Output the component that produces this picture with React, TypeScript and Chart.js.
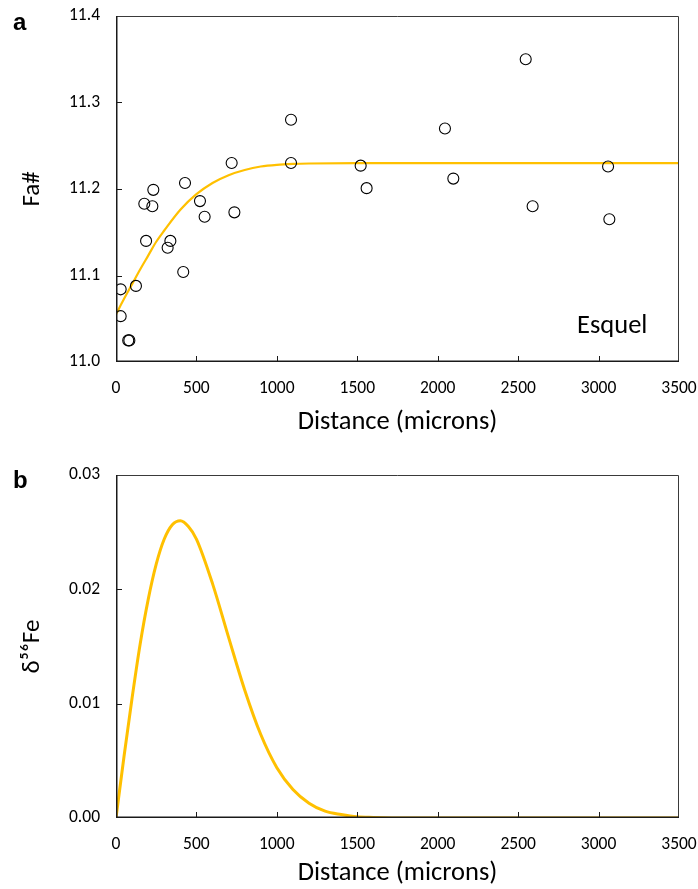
import React, { useEffect, useRef } from "react";
import { Chart, registerables } from "chart.js";

Chart.register(...registerables);

// ---- Panel a: Fa# data points (distance in microns, Fa#) ----
const pointsX = [29, 29, 76, 83, 124, 187, 176, 226, 232, 321, 338, 418, 429, 522, 551, 719, 736, 1088, 1088, 1521, 1558, 2045, 2097, 2547, 2590, 3059, 3067];
const pointsY = [11.084, 11.053, 11.025, 11.025, 11.088, 11.14, 11.183, 11.18, 11.199, 11.132, 11.14, 11.104, 11.207, 11.186, 11.168, 11.23, 11.173, 11.28, 11.23, 11.227, 11.201, 11.27, 11.212, 11.35, 11.18, 11.226, 11.165];

// ---- Panel a: model curve ----
const curveAX = [0, 50, 100, 150, 200, 250, 300, 400, 500, 600, 700, 800, 900, 1000, 1100, 1200, 1500, 2000, 2500, 3000, 3500];
const curveAY = [11.055, 11.073, 11.09, 11.107, 11.123, 11.139, 11.152, 11.176, 11.194, 11.207, 11.216, 11.222, 11.226, 11.228, 11.229, 11.2295, 11.23, 11.23, 11.23, 11.23, 11.23];

// ---- Panel b: δ56Fe model curve ----
const curveBX = [0, 50, 100, 150, 200, 250, 300, 350, 400, 450, 500, 600, 700, 800, 900, 1000, 1100, 1200, 1300, 1400, 1500, 1600, 1800, 2000, 2500, 3000, 3500];
const curveBY = [0, 0.0054, 0.0105, 0.0152, 0.0191, 0.0222, 0.0244, 0.02565, 0.026, 0.0255, 0.0244, 0.0205, 0.0158, 0.0112, 0.0073, 0.0044, 0.0025, 0.0013, 0.0006, 0.0003, 0.0001, 0.00005, 0, 0, 0, 0, 0];

// ---- Axis tick settings ----
const xTicks = { min: 0, max: 3500, step: 500 };
const yTicksA = { min: 11.0, max: 11.4, step: 0.1 };
const yTicksB = { min: 0, max: 0.03, step: 0.01 };

const FONT = "Carlito, 'Open Sans', sans-serif";
const GOLD = "#FFC000";

const framePlugin = {
  id: "frameTicks",
  afterDatasetsDraw(chart: any) {
    const { ctx, chartArea } = chart;
    const { left, right, top, bottom } = chartArea;
    ctx.save();
    ctx.strokeStyle = "#3a3a3a";
    ctx.lineWidth = 1;
    ctx.beginPath();
    ctx.moveTo(left, top + 0.5);
    ctx.lineTo(right - 0.5, top + 0.5);
    ctx.lineTo(right - 0.5, bottom);
    ctx.stroke();
    ctx.strokeStyle = "#1a1a1a";
    ctx.lineWidth = 1.5;
    ctx.beginPath();
    ctx.moveTo(left + 0.75, top);
    ctx.lineTo(left + 0.75, bottom - 0.75);
    ctx.lineTo(right, bottom - 0.75);
    ctx.stroke();
    ctx.lineWidth = 1;
    ctx.strokeStyle = "#1a1a1a";
    const xs = chart.scales.x;
    const ys = chart.scales.y;
    ctx.beginPath();
    xs.ticks.forEach((t: any) => {
      const px = Math.round(xs.getPixelForValue(t.value)) + 0.5;
      if (px <= left + 1 || px >= right - 1) return;
      ctx.moveTo(px, bottom);
      ctx.lineTo(px, bottom - 6);
    });
    ys.ticks.forEach((t: any) => {
      const py = Math.round(ys.getPixelForValue(t.value)) + 0.5;
      if (py <= top + 1 || py >= bottom - 1) return;
      ctx.moveTo(left, py);
      ctx.lineTo(left + 6, py);
    });
    ctx.stroke();
    ctx.restore();
  },
};

function makeOptions(yT: any, decimals: number, yTitle: string, padTop: number, xHeight: number, xTitlePadBottom: number) {
  return {
    responsive: false,
    animation: false,
    maintainAspectRatio: false,
    layout: { padding: { left: 0, right: 19, top: padTop, bottom: 0 } },
    plugins: { legend: { display: false }, tooltip: { enabled: false } },
    scales: {
      x: {
        type: "linear",
        min: xTicks.min,
        max: xTicks.max,
        grid: { display: false, drawTicks: false, tickLength: 0 },
        border: { display: false },
        ticks: {
          stepSize: xTicks.step,
          color: "#000",
          padding: 16,
          maxRotation: 0,
          font: { family: FONT, size: 17.5 },
          callback: (v: any) => String(v),
        },
        title: {
          display: true,
          text: "Distance (microns)",
          color: "#000",
          font: { family: FONT, size: 26.5 },
          padding: { top: 0, bottom: xTitlePadBottom },
        },
        afterFit: (s: any) => {
          s.height = xHeight;
          s.paddingLeft = 0;
          s.paddingRight = 0;
        },
      },
      y: {
        type: "linear",
        min: yT.min,
        max: yT.max,
        grid: { display: false, drawTicks: false, tickLength: 0 },
        border: { display: false },
        ticks: {
          stepSize: yT.step,
          color: "#000",
          padding: 16,
          font: { family: FONT, size: 17.5 },
          callback: (v: any) => Number(v).toFixed(decimals),
        },
        title: {
          display: true,
          text: yTitle,
          color: "#000",
          font: { family: FONT, size: 25 },
          padding: { top: 18, bottom: 0 },
        },
        afterFit: (s: any) => {
          s.width = 116;
          s.paddingTop = 0;
          s.paddingBottom = 0;
        },
      },
    },
  };
}

function App() {
  const refA = useRef<HTMLCanvasElement>(null);
  const refB = useRef<HTMLCanvasElement>(null);

  useEffect(() => {
    document.body.style.margin = "0";
    const chartA = new Chart(refA.current as HTMLCanvasElement, {
      type: "scatter",
      data: {
        datasets: [
          {
            type: "line",
            data: curveAX.map((x, i) => ({ x, y: curveAY[i] })),
            borderColor: GOLD,
            borderWidth: 2.2,
            pointRadius: 0,
            cubicInterpolationMode: "monotone",
            fill: false,
            order: 2,
          } as any,
          {
            type: "scatter",
            data: pointsX.map((x, i) => ({ x, y: pointsY[i] })),
            pointStyle: "circle",
            pointRadius: 5.5,
            borderColor: "#000",
            borderWidth: 1.1,
            backgroundColor: "rgba(0,0,0,0)",
            order: 1,
          } as any,
        ],
      },
      options: makeOptions(yTicksA, 1, "Fa#", 16, 83, 7) as any,
      plugins: [framePlugin],
    });
    const chartB = new Chart(refB.current as HTMLCanvasElement, {
      type: "line",
      data: {
        datasets: [
          {
            data: curveBX.map((x, i) => ({ x, y: curveBY[i] })),
            borderColor: GOLD,
            borderWidth: 3,
            pointRadius: 0,
            cubicInterpolationMode: "monotone",
            fill: false,
          } as any,
        ],
      },
      options: makeOptions(yTicksB, 2, "δ⁵⁶Fe", 30, 71, 0) as any,
      plugins: [framePlugin],
    });
    return () => {
      chartA.destroy();
      chartB.destroy();
    };
  }, []);

  const label: React.CSSProperties = {
    position: "absolute",
    fontFamily: "'Liberation Sans', Arial, sans-serif",
    fontWeight: "bold",
    fontSize: 24,
    lineHeight: "24px",
    color: "#000",
  };

  return (
    <div style={{ position: "relative", width: 698, height: 889, background: "#fff", overflow: "hidden" }}>
      <canvas ref={refA} width={698} height={445} style={{ position: "absolute", left: 0, top: 0, width: 698, height: 445 }} />
      <canvas ref={refB} width={698} height={444} style={{ position: "absolute", left: 0, top: 445, width: 698, height: 444 }} />
      <div style={{ ...label, left: 13, top: 10 }}>a</div>
      <div style={{ ...label, left: 13, top: 468 }}>b</div>
      <div
        style={{
          position: "absolute",
          left: 577,
          top: 309,
          fontFamily: FONT,
          fontSize: 26.5,
          lineHeight: "30px",
          color: "#000",
        }}
      >
        Esquel
      </div>
    </div>
  );
}

export default App;
